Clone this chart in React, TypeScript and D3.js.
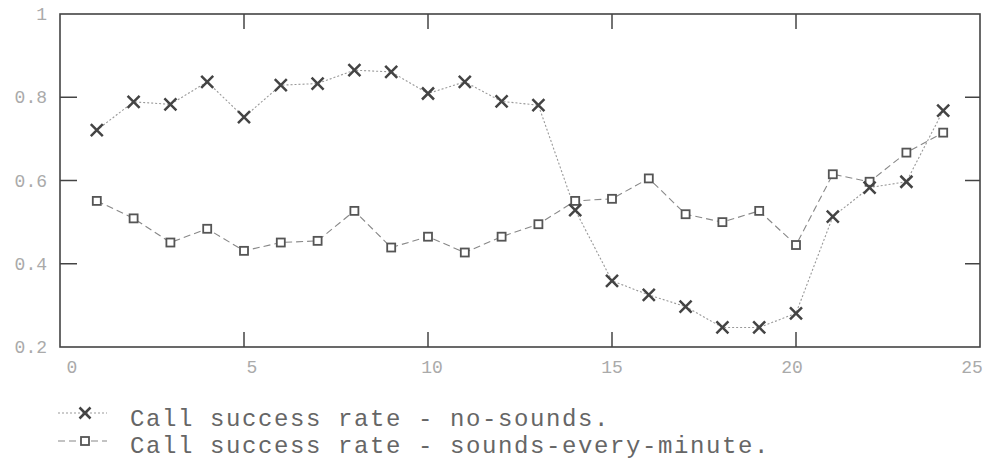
import React from "react";
import * as d3 from "d3";

const hours = [1, 2, 3, 4, 5, 6, 7, 8, 9, 10, 11, 12, 13, 14, 15, 16, 17, 18, 19, 20, 21, 22, 23, 24];
const noSounds = [0.721, 0.789, 0.783, 0.837, 0.752, 0.829, 0.833, 0.865, 0.861, 0.809, 0.837, 0.79, 0.781, 0.529, 0.359, 0.325, 0.297, 0.247, 0.247, 0.281, 0.513, 0.583, 0.597, 0.768];
const soundsEveryMinute = [0.551, 0.509, 0.451, 0.484, 0.431, 0.451, 0.455, 0.527, 0.439, 0.465, 0.427, 0.465, 0.495, 0.551, 0.556, 0.605, 0.519, 0.5, 0.527, 0.445, 0.615, 0.597, 0.667, 0.715];
const xTicks = [0, 5, 10, 15, 20, 25];
const yTicks = [0.2, 0.4, 0.6, 0.8, 1];
const yTickLabels = ["0.2", "0.4", "0.6", "0.8", "1"];
const legendLabels = ["Call success rate - no-sounds.", "Call success rate - sounds-every-minute."];

const W = 988, H = 463;
const left = 60, right = 980, top = 14, bottom = 347;
const mono = "'Liberation Mono', 'DejaVu Sans Mono', monospace";

function XMark({ x, y, s = 6 }: { x: number; y: number; s?: number }) {
  return (
    <path d={`M${x - s},${y - s}L${x + s},${y + s}M${x - s},${y + s}L${x + s},${y - s}`} stroke="#444" strokeWidth={2.5} fill="none" />
  );
}
function SqMark({ x, y, s = 4 }: { x: number; y: number; s?: number }) {
  return <rect x={x - s} y={y - s} width={2 * s} height={2 * s} fill="white" stroke="#555" strokeWidth={1.8} />;
}

export default function App() {
  const xs = d3.scaleLinear().domain([0, 25]).range([left, right]);
  const xLabel = d3.scaleLinear().domain([0, 25]).range([72, 972]);
  const ys = d3.scaleLinear().domain([0.2, 1]).range([bottom, top]);
  const line = d3.line<number>().x((_, i) => xs(hours[i])).y((d) => ys(d));
  const tickLen = 15;
  return (
    <svg width={W} height={H} style={{ position: "absolute", left: 0, top: 0, background: "white" }}>
      <rect x={0} y={0} width={W} height={H} fill="white" />
      {xTicks.slice(1, -1).map((t) => (
        <g key={"xt" + t}>
          <line x1={xs(t)} x2={xs(t)} y1={bottom} y2={bottom - tickLen} stroke="#444" strokeWidth={1.5} />
          <line x1={xs(t)} x2={xs(t)} y1={top} y2={top + tickLen} stroke="#444" strokeWidth={1.5} />
        </g>
      ))}
      {yTicks.slice(1, -1).map((t) => (
        <g key={"yt" + t}>
          <line x1={left} x2={left + 17} y1={ys(t)} y2={ys(t)} stroke="#444" strokeWidth={1.5} />
          <line x1={right} x2={right - 15} y1={ys(t)} y2={ys(t)} stroke="#444" strokeWidth={1.5} />
        </g>
      ))}
      <rect x={left} y={top} width={right - left} height={bottom - top} fill="none" stroke="#444" strokeWidth={1.6} />
      {xTicks.map((t) => (
        <text key={"xl" + t} x={xLabel(t)} y={373} textAnchor="middle" fontFamily={mono} fontSize={18} fill="#aaa">
          {t}
        </text>
      ))}
      {yTicks.map((t, i) => (
        <text key={"yl" + t} x={47} y={ys(t) + 6} textAnchor="end" fontFamily={mono} fontSize={18} fill="#aaa">
          {yTickLabels[i]}
        </text>
      ))}
      <path d={line(noSounds) || ""} fill="none" stroke="#999" strokeWidth={1.1} strokeDasharray="2,2" />
      <path d={line(soundsEveryMinute) || ""} fill="none" stroke="#888" strokeWidth={1.1} strokeDasharray="7,4" />
      {soundsEveryMinute.map((v, i) => (
        <SqMark key={"s" + i} x={xs(hours[i])} y={ys(v)} />
      ))}
      {noSounds.map((v, i) => (
        <XMark key={"x" + i} x={xs(hours[i])} y={ys(v)} />
      ))}
      <line x1={58} x2={107} y1={413} y2={413} stroke="#999" strokeWidth={1.1} strokeDasharray="2,2" />
      <XMark x={85} y={413} s={5.5} />
      <text x={130} y={426} fontFamily={mono} fontSize={24} letterSpacing={1.6} fill="#666">{legendLabels[0]}</text>
      <line x1={58} x2={107} y1={441} y2={441} stroke="#888" strokeWidth={1.1} strokeDasharray="7,4" />
      <SqMark x={85} y={441} />
      <text x={130} y={453} fontFamily={mono} fontSize={24} letterSpacing={1.6} fill="#666">{legendLabels[1]}</text>
    </svg>
  );
}
